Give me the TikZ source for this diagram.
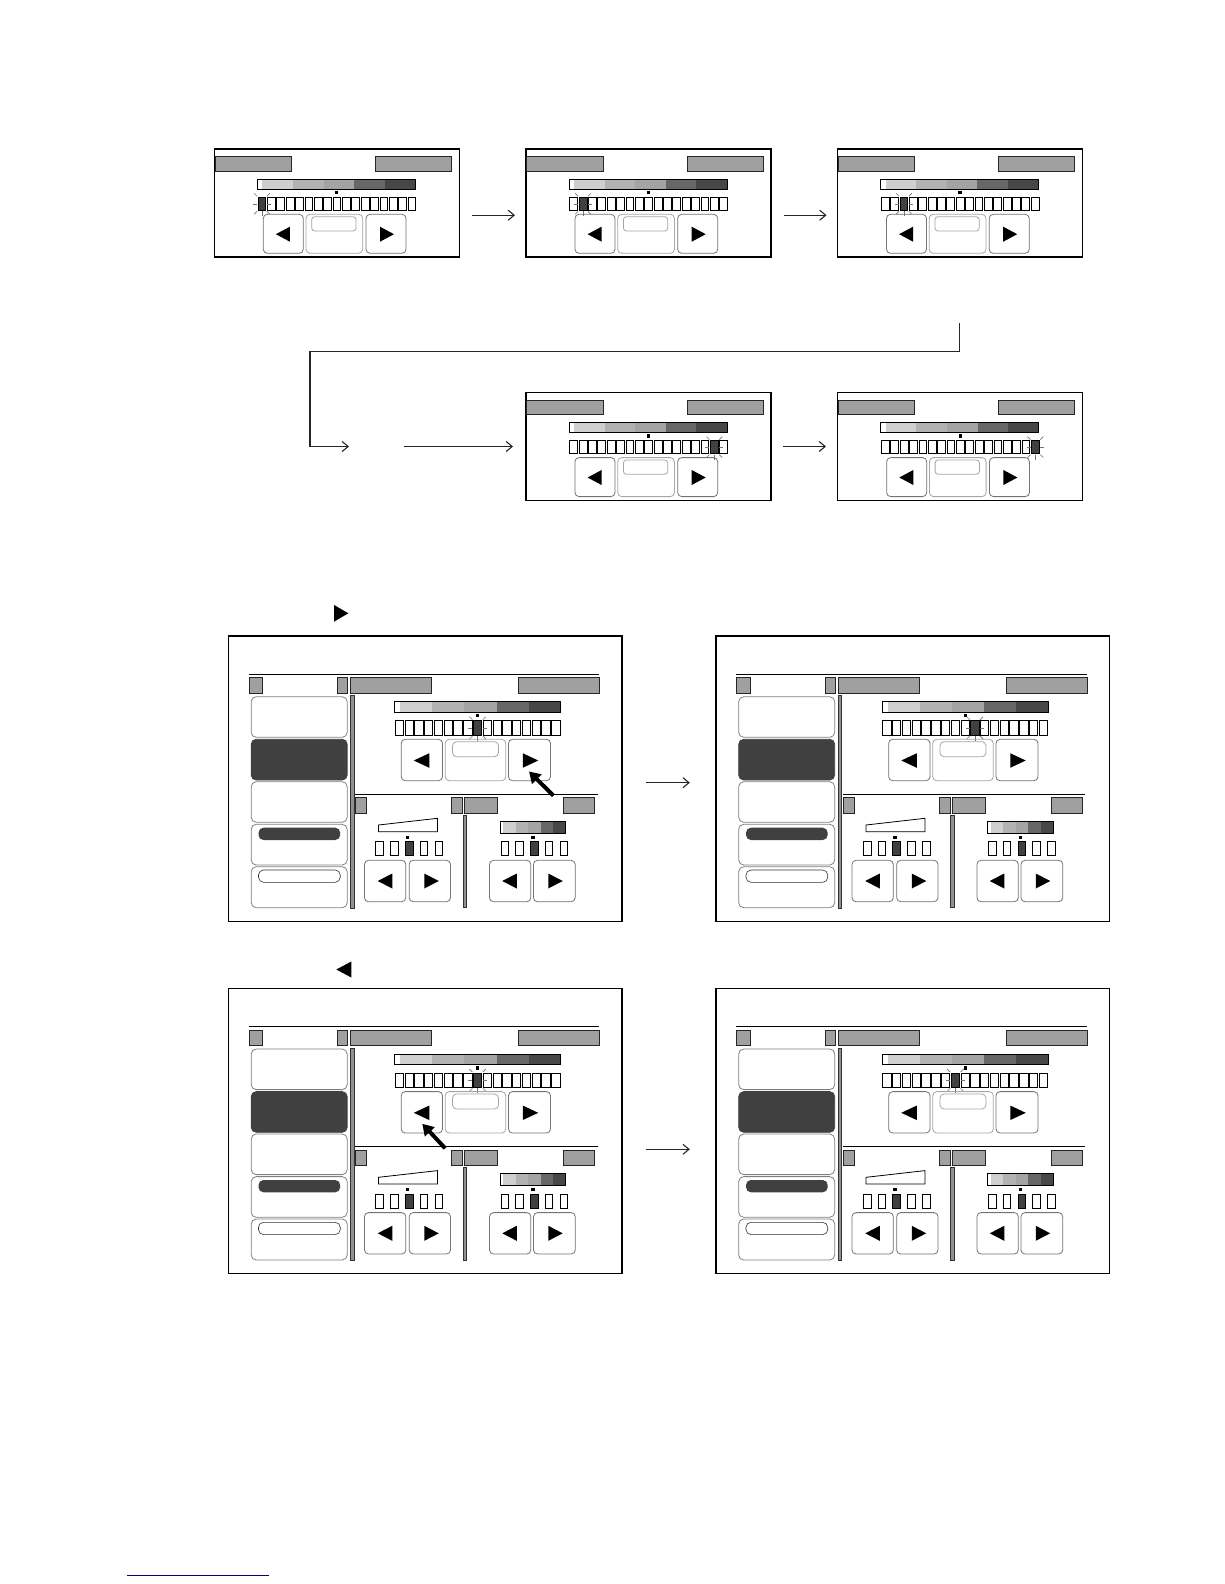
\documentclass[tikz,border=0pt]{standalone}
\usetikzlibrary{arrows.meta}
\definecolor{gbar}{HTML}{A0A0A0}
\definecolor{dk}{HTML}{404040}
\definecolor{sA}{HTML}{CFCFCF}
\definecolor{sB}{HTML}{B2B2B2}
\definecolor{sC}{HTML}{A4A4A4}
\definecolor{sD}{HTML}{676767}
\definecolor{sE}{HTML}{474747}
\definecolor{vbarc}{HTML}{909090}
\definecolor{navyline}{HTML}{000080}
\tikzset{
  panel/.style={draw, line width=1.3pt, inner sep=0pt, fill=white},
  graybar/.style={fill=gbar, draw=black!85, line width=0.8pt},
  btn/.style={draw=black!55, line width=0.8pt, rounded corners=4pt},
  btnl/.style={draw=black!35, line width=0.8pt, rounded corners=4pt},
  menu/.style={draw=black!50, line width=0.8pt, rounded corners=5pt, fill=white},
  cell/.style={draw=black, line width=0.9pt},
  cellfill/.style={fill=dk, draw=black, line width=0.9pt},
  glow/.style={draw=black!55, line width=0.6pt},
  vbar/.style={fill=vbarc, draw=black!80, line width=0.6pt},
  flowarrow/.style={draw=black!85, line width=1.1pt, -{Straight Barb[length=6pt,width=10pt]}},
  pointer/.style={line width=4pt, -{Triangle[length=11pt,width=13pt]}},
}
% scale bar: x0,y0,x1,y1,white width
\newcommand\ScaleBar[5]{%
  \pgfmathsetmacro\sbw{(#3-#1-#5)/5}%
  \fill[white] (#1,#2) rectangle ({#1+#5},#4);
  \foreach \c [count=\i from 0] in {sA,sB,sC,sD,sE}{%
    \fill[\c] ({#1+#5+\i*\sbw},#2) rectangle ({#1+#5+(\i+1)*\sbw},#4);
  }
  \draw[line width=0.8pt] (#1,#2) rectangle (#3,#4);
}
% cell row: x0, ytop, ybot, pitch, n, filled, gap
\newcommand\CellRow[7]{%
  \foreach \i in {1,...,#5}{%
    \pgfmathsetmacro\cxa{#1+(\i-1)*#4+#7/2}%
    \pgfmathsetmacro\cxb{#1+\i*#4-#7/2}%
    \ifnum\i=#6\relax
      \draw[cellfill] (\cxa,#2) rectangle (\cxb,#3);
    \else
      \draw[cell] (\cxa,#2) rectangle (\cxb,#3);
    \fi
  }%
}
% glow: cx, ytop, ybot, half width
\newcommand\Glow[4]{%
  \draw[glow] ({#1-#4-1},{(#2+#3)/2}) -- ({#1-#4-5},{(#2+#3)/2});
  \draw[glow] ({#1+#4+1},{(#2+#3)/2}) -- ({#1+#4+5},{(#2+#3)/2});
  \draw[glow] ({#1-#4-1},{#2-1}) -- ({#1-#4-4},{#2-4});
  \draw[glow] ({#1+#4+1},{#2-1}) -- ({#1+#4+4},{#2-4});
  \draw[glow] ({#1-#4-1},{#3+1}) -- ({#1-#4-4},{#3+4});
  \draw[glow] ({#1+#4+1},{#3+1}) -- ({#1+#4+4},{#3+4});
  \draw[glow] (#1,{#3+1}) -- (#1,{#3+6});
}
\newcommand\TriL[4]{\fill ({#1+#3/2},{#2-#4/2}) -- ({#1+#3/2},{#2+#4/2}) -- ({#1-#3/2},#2) -- cycle;}
\newcommand\TriR[4]{\fill ({#1-#3/2},{#2-#4/2}) -- ({#1-#3/2},{#2+#4/2}) -- ({#1+#3/2},#2) -- cycle;}
% small panel: name, x, y, filled index
\newcommand\SmallPanel[4]{%
\begin{scope}[shift={(#2,#3)}]
  \node[panel, minimum width=245pt, minimum height=108pt] (#1) at (122.5,54) {};
  \draw[graybar] (0.6,7.7) rectangle (77,22.3);
  \draw[graybar] (161,7.7) rectangle (237,22.3);
  \ScaleBar{43}{30.3}{201}{40.3}{5}
  \fill (120.8,42) rectangle (124,45.3);
  \CellRow{43}{48.3}{61.3}{9.375}{17}{#4}{1.6}
  \pgfmathsetmacro\gcx{43+(#4-0.5)*9.375}
  \Glow{\gcx}{48.3}{61.3}{3.9}
  \draw[btn] (49,65.3) rectangle (89,104.3);
  \draw[btnl] (91.7,65.3) rectangle (148.4,104.3);
  \draw[btnl, rounded corners=3pt] (97.4,67.7) rectangle (141.7,82);
  \draw[btn] (151.7,65.3) rectangle (191.7,104.3);
  \TriL{68.6}{85.2}{14}{15}
  \TriR{172.7}{85.2}{14}{15}
\end{scope}
}
% big panel: name, x, y, filled index, pointer (0 none, 1 right, 2 left)
\newcommand\BigPanel[5]{%
\begin{scope}[shift={(#2,#3)}]
  \node[panel, minimum width=393.5pt, minimum height=285.3pt] (#1) at (196.75,142.65) {};
  \draw[line width=1pt] (20,38.3) -- (370.7,38.3);
  \draw[graybar] (20.7,41.7) rectangle (34,57.3);
  \draw[graybar] (109.3,41.7) rectangle (119.3,57.3);
  \draw[graybar] (122,41.7) rectangle (203.3,57.3);
  \draw[graybar] (290,41.7) rectangle (371,57.3);
  % left menu
  \draw[menu] (22.7,60.7) rectangle (118.7,101.3);
  \draw[menu, fill=dk, draw=dk] (22.7,103.3) rectangle (118.7,144);
  \draw[menu] (22.7,145.7) rectangle (118.7,186.3);
  \draw[menu] (22.7,188.3) rectangle (118.7,229);
  \draw[menu] (22.7,230.7) rectangle (118.7,271.7);
  \fill[dk, rounded corners=5pt] (30,191.7) rectangle (111.7,204);
  \draw[line width=0.6pt, draw=black!80, rounded corners=5pt] (30,234) rectangle (111.7,246.3);
  \draw[vbar] (122,59.7) rectangle (125.3,272.3);
  % main scale
  \ScaleBar{166}{65.7}{332.3}{76.3}{5.7}
  \fill (247.6,78) rectangle (250.9,81.3);
  \CellRow{166}{84.7}{99}{9.78}{17}{#4}{1.4}
  \pgfmathsetmacro\gcx{166+(#4-0.5)*9.78}
  \Glow{\gcx}{84.7}{99}{4.2}
  \draw[btn] (172.7,103.3) rectangle (214,144.7);
  \draw[btnl] (216.7,103.3) rectangle (277.3,144.7);
  \draw[btnl, rounded corners=4pt] (224,105.7) rectangle (270,120.7);
  \draw[btn] (280,103.3) rectangle (322,144.7);
  \TriL{193}{124.5}{15.5}{14.5}
  \TriR{302}{124.5}{15.5}{14.5}
  % lower section
  \draw[line width=1pt] (126.7,158.3) -- (369.3,158.3);
  \draw[graybar] (127.3,161.7) rectangle (138.3,177.3);
  \draw[graybar] (223.3,161.7) rectangle (234,177.3);
  \draw[graybar] (236,161.7) rectangle (269.3,177.3);
  \draw[graybar] (335,161.7) rectangle (366,177.3);
  \draw[vbar] (234.7,179) rectangle (238,271.7);
  % volume wedge
  \draw[line width=0.8pt] (150,189) -- (209,182.3) -- (209,195.7) -- (150,195.7) -- cycle;
  \fill (177.4,199.7) rectangle (180.7,202.7);
  \CellRow{143.75}{205.7}{219.7}{14.8}{5}{3}{7.1}
  \draw[btn] (136,224.3) rectangle (177.3,265.7);
  \draw[btn] (180.7,224.3) rectangle (222,265.7);
  \TriL{156.5}{245}{14.5}{15}
  \TriR{203}{245}{14.5}{15}
  % right lower scale
  \ScaleBar{271.7}{185}{337.3}{197.3}{3}
  \fill (302.7,199.7) rectangle (306,202.7);
  \CellRow{269}{205.7}{219.7}{14.75}{5}{3}{7.2}
  \draw[btn] (261,224.3) rectangle (302.3,265.7);
  \draw[btn] (305,224.3) rectangle (346.7,265.7);
  \TriL{281}{245}{14.5}{15}
  \TriR{327}{245}{14.5}{15}
  \ifcase#5\relax
  \or \draw[pointer] (325,159.7) -- (300.5,135.5);
  \or \draw[pointer] (216.7,160) -- (193.8,135.5);
  \fi
\end{scope}
}
\begin{document}
\begin{tikzpicture}[x=1pt, y=-1pt]
  \useasboundingbox (0,0) rectangle (1224,1584);
  % top sequence
  \SmallPanel{sp1}{214.3}{149}{1}
  \SmallPanel{sp2}{526}{149}{2}
  \SmallPanel{sp3}{837.5}{149}{3}
  \SmallPanel{sp4}{526}{392.3}{16}
  \SmallPanel{sp5}{837.7}{392.3}{17}
  \coordinate (a1s) at (472,215.2);
  \coordinate (a1e) at (515,215.2);
  \coordinate (a2s) at (783.7,215.2);
  \coordinate (a2e) at (826.5,215.2);
  \coordinate (l1) at (959.4,323);
  \coordinate (l2) at (959.4,351.4);
  \coordinate (l3) at (310,351.4);
  \coordinate (l4) at (310,446.5);
  \coordinate (l5) at (349,446.5);
  \coordinate (a3s) at (404,446.5);
  \coordinate (a3e) at (513,446.5);
  \coordinate (a4s) at (783.2,446.5);
  \coordinate (a4e) at (826,446.5);
  \draw[flowarrow] (a1s) -- (a1e);
  \draw[flowarrow] (a2s) -- (a2e);
  \draw[flowarrow] (l1) -- (l2) -- (l3) -- (l4) -- (l5);
  \draw[flowarrow] (a3s) -- (a3e);
  \draw[flowarrow] (a4s) -- (a4e);
  % button icons
  \TriR{341.2}{613.3}{14.3}{16.7}
  \TriL{343.8}{969.5}{15}{16}
  % big panels
  \BigPanel{bp1}{228.5}{636}{9}{1}
  \BigPanel{bp2}{716}{636}{10}{0}
  \BigPanel{bp3}{228.5}{988.3}{9}{2}
  \BigPanel{bp4}{716}{988.3}{8}{0}
  \coordinate (b1s) at (646.3,782.7);
  \coordinate (b1e) at (689.8,782.7);
  \coordinate (b2s) at (646.3,1149.3);
  \coordinate (b2e) at (689.8,1149.3);
  \draw[flowarrow] (b1s) -- (b1e);
  \draw[flowarrow] (b2s) -- (b2e);
  % footnote rule
  \coordinate (f1) at (127.3,1575);
  \coordinate (f2) at (269,1575);
  \draw[navyline, line width=1pt] (f1) -- (f2);
\end{tikzpicture}
\end{document}
